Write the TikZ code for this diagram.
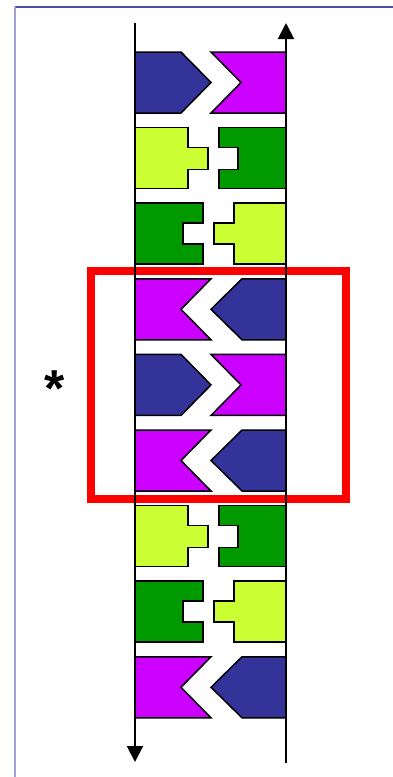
\documentclass[tikz,border=0pt]{standalone}
\usepackage{fontspec}
\setsansfont{Liberation Sans}
\usetikzlibrary{arrows.meta}
\definecolor{hexblue}{RGB}{51,51,153}
\definecolor{hexmagenta}{RGB}{204,0,255}
\definecolor{hexlime}{RGB}{204,255,51}
\definecolor{hexgreen}{RGB}{0,153,0}
\definecolor{frametop}{RGB}{75,75,160}
\definecolor{frameleft}{RGB}{160,160,215}
\tikzset{
  piece/.style={draw=black,line width=1.5pt,line join=miter},
  strand/.style={draw=black,line width=2pt},
  strandtip/.style={-{Triangle[length=16pt,width=16pt]}},
  box/.style={draw=red,line width=8pt}
}
\begin{document}
\begin{tikzpicture}[x=1pt,y=-1pt]
\useasboundingbox (0,0) rectangle (393,777);
% frame
\draw[frametop,line width=1.5pt] (15,7) -- (393,7);
\draw[frameleft,line width=2pt] (15,7) -- (15,777);
% red box
\draw[box] (91,271) rectangle (346,499);
% row 1
\draw[piece,fill=hexblue] (135,52) -- (181,52) -- (211,82.5) -- (181,113) -- (135,113) -- cycle;
\draw[piece,fill=hexmagenta] (211,52) -- (286,52) -- (286,113) -- (211,113) -- (241,82.5) -- cycle;
% row 2
\draw[piece,fill=hexlime] (135,127.6) -- (188,127.6) -- (188,147.6) -- (208,147.6) -- (208,169.6) -- (188,169.6) -- (188,188.6) -- (135,188.6) -- cycle;
\draw[piece,fill=hexgreen] (219,127.6) -- (286,127.6) -- (286,188.6) -- (219,188.6) -- (219,169.6) -- (238,169.6) -- (238,147.6) -- (219,147.6) -- cycle;
% row 3
\draw[piece,fill=hexgreen] (135,203.2) -- (203,203.2) -- (203,223.2) -- (183,223.2) -- (183,244.2) -- (203,244.2) -- (203,264.2) -- (135,264.2) -- cycle;
\draw[piece,fill=hexlime] (234,203.2) -- (286,203.2) -- (286,264.2) -- (234,264.2) -- (234,244.2) -- (214,244.2) -- (214,223.2) -- (234,223.2) -- cycle;
% row 4
\draw[piece,fill=hexmagenta] (135,278.8) -- (211,278.8) -- (181,309.3) -- (211,339.8) -- (135,339.8) -- cycle;
\draw[piece,fill=hexblue] (211,309.3) -- (242,278.8) -- (286,278.8) -- (286,339.8) -- (242,339.8) -- cycle;
% row 5
\draw[piece,fill=hexblue] (135,354.4) -- (181,354.4) -- (211,384.9) -- (181,415.4) -- (135,415.4) -- cycle;
\draw[piece,fill=hexmagenta] (211,354.4) -- (286,354.4) -- (286,415.4) -- (211,415.4) -- (241,384.9) -- cycle;
% row 6
\draw[piece,fill=hexmagenta] (135,430) -- (211,430) -- (181,460.5) -- (211,491) -- (135,491) -- cycle;
\draw[piece,fill=hexblue] (211,460.5) -- (242,430) -- (286,430) -- (286,491) -- (242,491) -- cycle;
% row 7
\draw[piece,fill=hexlime] (135,505.6) -- (188,505.6) -- (188,525.6) -- (208,525.6) -- (208,547.6) -- (188,547.6) -- (188,566.6) -- (135,566.6) -- cycle;
\draw[piece,fill=hexgreen] (219,505.6) -- (286,505.6) -- (286,566.6) -- (219,566.6) -- (219,547.6) -- (238,547.6) -- (238,525.6) -- (219,525.6) -- cycle;
% row 8
\draw[piece,fill=hexgreen] (135,581.2) -- (203,581.2) -- (203,601.2) -- (183,601.2) -- (183,622.2) -- (203,622.2) -- (203,642.2) -- (135,642.2) -- cycle;
\draw[piece,fill=hexlime] (234,581.2) -- (286,581.2) -- (286,642.2) -- (234,642.2) -- (234,622.2) -- (214,622.2) -- (214,601.2) -- (234,601.2) -- cycle;
% row 9
\draw[piece,fill=hexmagenta] (135,656.8) -- (211,656.8) -- (181,687.3) -- (211,717.8) -- (135,717.8) -- cycle;
\draw[piece,fill=hexblue] (211,687.3) -- (242,656.8) -- (286,656.8) -- (286,717.8) -- (242,717.8) -- cycle;
% strands
\coordinate (ltop) at (135,23);
\coordinate (lbot) at (135,762);
\coordinate (rtop) at (286,23);
\coordinate (rbot) at (286,763);
\draw[strand,strandtip] (ltop) -- (lbot);
\draw[strand,strandtip] (rbot) -- (rtop);
\node (star) at (55,389) {\sffamily\bfseries\fontsize{52}{52}\selectfont *};
\end{tikzpicture}
\end{document}
